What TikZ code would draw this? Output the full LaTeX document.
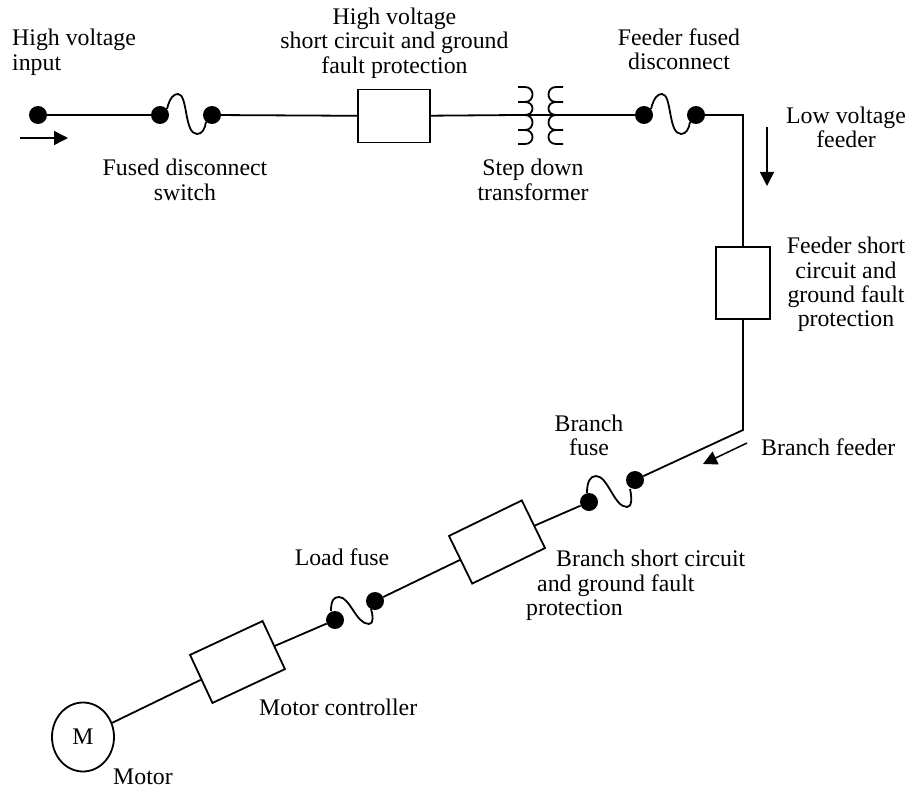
\documentclass[tikz,border=0pt]{standalone}
\usepackage{fontspec}
\setmainfont{Liberation Serif}
\usetikzlibrary{shapes.geometric,arrows.meta}
\tikzset{
  wire/.style={line width=1.8pt,line join=miter},
  dot/.style={circle,fill=black,inner sep=0pt,minimum size=18pt},
  hbox/.style={draw,line width=1.8pt,rectangle,inner sep=0pt,minimum width=72pt,minimum height=53pt},
  vbox/.style={draw,line width=1.8pt,rectangle,inner sep=0pt,minimum width=54pt,minimum height=72pt},
  rbox/.style={draw,line width=1.8pt,rectangle,inner sep=0pt,minimum width=80pt,minimum height=53pt},
  flowarrow/.style={line width=1.5pt,-{Triangle[length=14pt,width=14pt]}},
  lbl/.style={inner sep=0pt,align=center,font=\fontsize{23.8}{24.3}\selectfont},
  lbll/.style={inner sep=0pt,align=left,font=\fontsize{23.8}{24.8}\selectfont},
  single/.style={inner sep=0pt,font=\fontsize{23.8}{24.3}\selectfont,text height=20pt,text depth=3pt},
}
\begin{document}
\begin{tikzpicture}[x=1pt,y=-1pt]
\useasboundingbox (0,0) rectangle (909,786);
% dots
\node[dot] (in) at (38,115) {};
\node[dot] (f1a) at (160,115) {};
\node[dot] (f1b) at (212,115) {};
\node[hbox] (hv) at (394,116) {};
\coordinate (tl) at (518,115);
\coordinate (tr) at (563,115);
\node[dot] (f2a) at (644,115) {};
\node[dot] (f2b) at (696,115) {};
\coordinate (c1) at (743,115);
\node[vbox] (fb) at (743,283) {};
\coordinate (c2) at (743,430);
\node[dot] (f3b) at (635,480) {};
\node[dot] (f3a) at (589,502) {};
\node[rbox,minimum width=81pt,rotate=26] (bb) at (497,542) {};
\node[dot] (f4b) at (375,601) {};
\node[dot] (f4a) at (335,620) {};
\node[rbox,rotate=25] (mc) at (237.5,662) {};
\node[draw,ellipse,line width=1.8pt,inner sep=0pt,minimum width=62pt,minimum height=69pt,
      font=\fontsize{23.8}{24.3}\selectfont] (M) at (83,737) {M};
% wires
\draw[wire] (in) -- (f1a);
\draw[wire] (f1b) -- (hv);
\draw[wire] (hv) -- (tl) -- (tr) -- (f2a);
\draw[wire] (f2b) -- (c1) -- (fb);
\draw[wire] (fb) -- (c2) -- (f3b);
\draw[wire] (f3a) -- (bb);
\draw[wire] (bb) -- (f4b);
\draw[wire] (f4a) -- (mc);
\draw[wire] (mc) -- (M);
% fuses
\draw[wire] (167,109) .. controls (170,97) and (174,94) .. (178,94)
  .. controls (188,94) and (184,134) .. (197,134) .. controls (202,134) and (205,129) .. (206,122);
\draw[wire] (651,109) .. controls (654,97) and (658,94) .. (662,94)
  .. controls (672,94) and (668,134) .. (681,134) .. controls (686,134) and (689,129) .. (690,122);
\draw[wire] (587,493) .. controls (587,482) and (590,476) .. (596,476)
  .. controls (608,476) and (614,507) .. (627,507) .. controls (632,507) and (632,498) .. (630,489);
\draw[wire] (331,611) .. controls (331,600) and (334,597) .. (339,597)
  .. controls (350,597) and (356,624) .. (369,624) .. controls (374,624) and (373,615) .. (371,609);
% transformer
\draw[wire] (518,87) -- (525,87) .. controls (535,87) and (535,102) .. (525,102) -- (518,102)
  (525,102) .. controls (535,102) and (535,115) .. (525,115)
  (525,115) .. controls (535,115) and (535,130) .. (525,130) -- (518,130)
  (525,130) .. controls (535,130) and (535,144) .. (525,144) -- (518,144);
\draw[wire] (563,87) -- (556,87) .. controls (546,87) and (546,102) .. (556,102) -- (563,102)
  (556,102) .. controls (546,102) and (546,115) .. (556,115)
  (556,115) .. controls (546,115) and (546,130) .. (556,130) -- (563,130)
  (556,130) .. controls (546,130) and (546,144) .. (556,144) -- (563,144);
% flow arrows
\coordinate (a1s) at (20,138); \coordinate (a1e) at (68,138);
\coordinate (a2s) at (767,127); \coordinate (a2e) at (767,186);
\coordinate (a3s) at (747,443); \coordinate (a3e) at (703,464);
\draw[flowarrow] (a1s) -- (a1e);
\draw[flowarrow] (a2s) -- (a2e);
\draw[flowarrow] (a3s) -- (a3e);
% labels
\node[lbll,anchor=west] (t1) at (12,52) {High voltage\\input};
\node[lbl] (t2) at (394.5,43) {High voltage\\short circuit and ground\\fault protection};
\node[lbl] (t3) at (185,180) {Fused disconnect\\switch};
\node[lbl] (t4) at (533,180) {Step down\\transformer};
\node[lbl] (t5) at (679,49) {Feeder fused\\disconnect};
\node[lbl] (t6) at (846,127.5) {Low voltage\\feeder};
\node[lbl] (t7) at (846,284.5) {Feeder short\\circuit and\\ground fault\\protection};
\node[lbl] (t8) at (589,435.5) {Branch\\fuse};
\node[single,anchor=west] (t9) at (761,447) {Branch feeder};
\node[single,anchor=west] (t10a) at (556,558) {Branch short circuit};
\node[single,anchor=west] (t10b) at (537,583) {and ground fault};
\node[single,anchor=west] (t10c) at (526,607) {protection};
\node[single] (t11) at (342,557) {Load fuse};
\node[single,anchor=west] (t12) at (259,707) {Motor controller};
\node[single,anchor=west] (t13) at (113,776) {Motor};
\end{tikzpicture}
\end{document}
